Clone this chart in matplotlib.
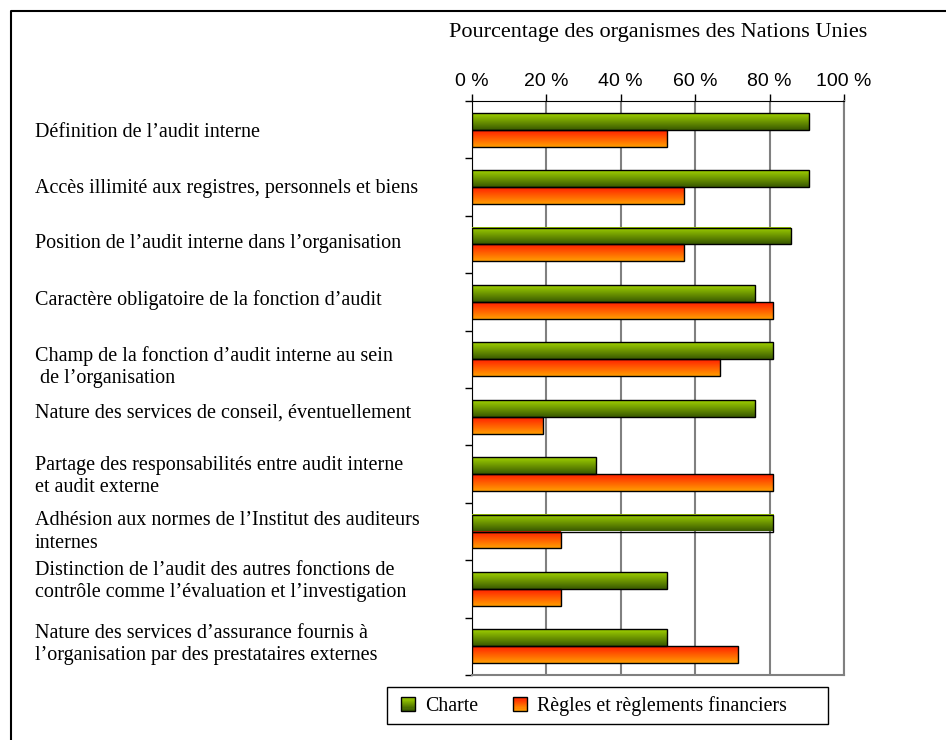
import numpy as np
import matplotlib
matplotlib.use("Agg")
import matplotlib.pyplot as plt
from matplotlib.patches import Rectangle
from matplotlib.lines import Line2D
from matplotlib.legend_handler import HandlerBase
import matplotlib.transforms as mtransforms

categories = [
    "Définition de l’audit interne",
    "Accès illimité aux registres, personnels et biens",
    "Position de l’audit interne dans l’organisation",
    "Caractère obligatoire de la fonction d’audit",
    "Champ de la fonction d’audit interne au sein\n de l’organisation",
    "Nature des services de conseil, éventuellement",
    "Partage des responsabilités entre audit interne\net audit externe",
    "Adhésion aux normes de l’Institut des auditeurs\ninternes",
    "Distinction de l’audit des autres fonctions de\ncontrôle comme l’évaluation et l’investigation",
    "Nature des services d’assurance fournis à\nl’organisation par des prestataires externes",
]
charte = [90.5, 90.5, 85.7, 76.2, 81.0, 76.2, 33.3, 81.0, 52.4, 52.4]
regles = [52.4, 57.1, 57.1, 81.0, 66.7, 19.0, 81.0, 23.8, 23.8, 71.4]
xticks = [0, 20, 40, 60, 80, 100]
xticklabels = ["0 %", "20 %", "40 %", "60 %", "80 %", "100 %"]
series_names = ["Charte", "Règles et règlements financiers"]

# the category labels are not quite centred on their rows in the original (pixels, + is down)
label_nudge_px = [3, 1, -1, -2, 8, -4, 2, 0.5, -7.5, -2]

GREEN = ("#9fd000", "#3a5a00")
ORANGE = ("#ff2000", "#ff9c00")
SERIF = "Liberation Serif"
SANS = "Liberation Sans"


def grad_rgb(top, bot, n=32):
    c0 = np.array(matplotlib.colors.to_rgb(top))
    c1 = np.array(matplotlib.colors.to_rgb(bot))
    t = np.linspace(0, 1, n)[:, None]
    return (c0 * (1 - t) + c1 * t)[:, None, :]


class GradHandler(HandlerBase):
    def __init__(self, top, bot):
        super().__init__()
        self.top, self.bot = top, bot

    def create_artists(self, legend, orig_handle, xdescent, ydescent,
                       width, height, fontsize, trans):
        s = min(width, height)
        x0 = -xdescent + (width - s) / 2
        y0 = -ydescent + (height - s) / 2
        n = 12
        cols = grad_rgb(self.top, self.bot, n)[:, 0, :]
        arts = []
        for k in range(n):
            arts.append(Rectangle((x0, y0 + s * (n - 1 - k) / n), s, s / n,
                                  facecolor=cols[k], edgecolor="none", transform=trans))
        arts.append(Rectangle((x0, y0), s, s, facecolor="none",
                              edgecolor="black", lw=1, transform=trans))
        return arts


W, H = 946, 740
fig = plt.figure(figsize=(W / 100, H / 100), dpi=100)
ax = fig.add_axes([472 / W, 1 - 675 / H, 372 / W, 574 / H])

n = len(categories)
y = np.arange(n)
bh = 0.296
row_px = 574 / n

for vals, off, (top, bot) in [(charte, -bh / 2, GREEN), (regles, bh / 2, ORANGE)]:
    bars = ax.barh(y + off, vals, height=bh, facecolor="none",
                   edgecolor="black", lw=1, zorder=4)
    for b in bars:
        x0, y0, w, h = b.get_x(), b.get_y(), b.get_width(), b.get_height()
        ax.imshow(grad_rgb(top, bot), extent=(x0, x0 + w, y0 + h, y0),
                  aspect="auto", interpolation="bilinear", zorder=3)

ax.set_xlim(0, 100)
ax.set_ylim(n - 0.5, -0.5)
ax.xaxis.tick_top()
ax.set_xticks(xticks)
ax.set_xticklabels(xticklabels, fontfamily=SANS, fontsize=14)
ax.tick_params(axis="x", direction="out", length=5, width=1, pad=3)
ax.set_yticks(np.arange(-0.5, n, 1))
ax.set_yticklabels([])
ax.tick_params(axis="y", direction="out", length=5, width=1)
ax.grid(axis="x", color="#808080", lw=1.5, zorder=1)
ax.set_axisbelow(True)
ax.spines["top"].set_color("black")
ax.spines["left"].set_color("black")
for s in ("right", "bottom"):
    ax.spines[s].set_color("#808080")
    ax.spines[s].set_linewidth(1.5)

tr = mtransforms.blended_transform_factory(fig.transFigure, ax.transData)
for i, lab in enumerate(categories):
    ax.text(35 / W, i + label_nudge_px[i] / row_px, lab, transform=tr,
            ha="left", va="center", fontfamily=SERIF, fontsize=14.5,
            linespacing=1.22)

fig.text(658 / W, 1 - 33 / H, "Pourcentage des organismes des Nations Unies",
         ha="center", va="center", fontfamily=SERIF, fontsize=16)

# legend frame drawn by hand, it is wider than its content
fig.add_artist(Rectangle((387 / W, 1 - 724 / H), 441 / W, 37 / H,
                         transform=fig.transFigure, facecolor="white",
                         edgecolor="black", lw=1))
handles = [Rectangle((0, 0), 1, 1), Rectangle((0, 1), 1, 1)]
leg = fig.legend(handles, series_names, loc="center left",
                 bbox_to_anchor=(401 / W, 1 - 706 / H), ncol=2,
                 handler_map={handles[0]: GradHandler(*GREEN),
                              handles[1]: GradHandler(*ORANGE)},
                 prop={"family": SERIF, "size": 14.3}, frameon=False,
                 handlelength=0.7, handleheight=0.7,
                 handletextpad=0.5, columnspacing=1.75, borderpad=0,
                 borderaxespad=0)
leg.set_zorder(5)

fig.add_artist(Line2D([10.5 / W, 10.5 / W, 1], [0, 1 - 11 / H, 1 - 11 / H],
                      transform=fig.transFigure, color="black", lw=1.5))

fig.savefig("out.png", dpi=100)
